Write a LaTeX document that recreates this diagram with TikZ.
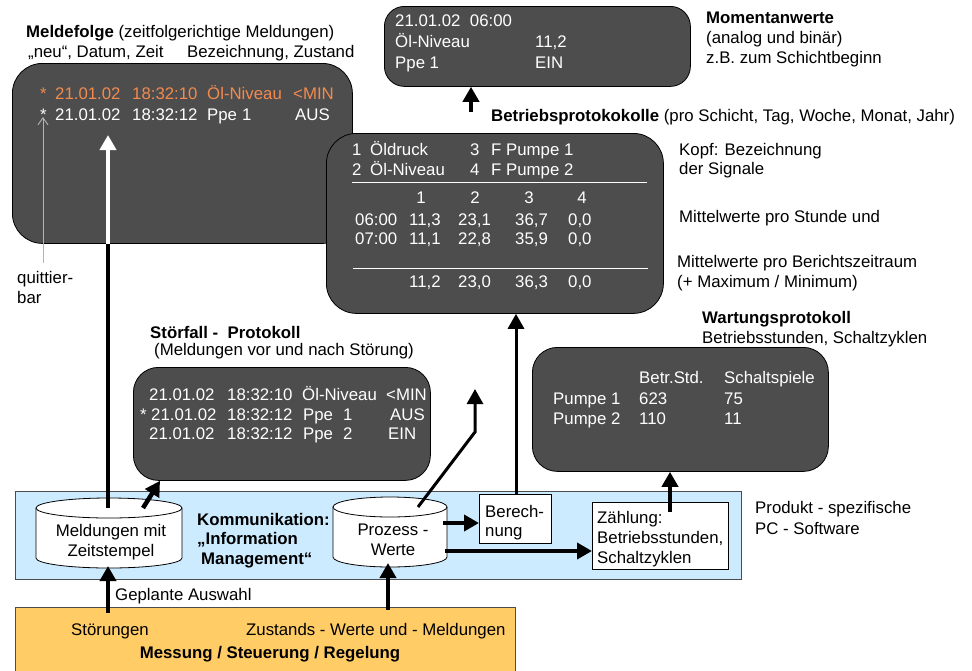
\documentclass[tikz,border=0pt]{standalone}
\usepackage{fontspec}
\setmainfont{Liberation Sans}
\usetikzlibrary{arrows.meta}
\definecolor{panel}{HTML}{4D4D4D}
\definecolor{alarm}{HTML}{F28A50}
\definecolor{lanblue}{HTML}{CCEBFF}
\definecolor{fieldorange}{HTML}{FFCC66}
\definecolor{ackline}{HTML}{B4B4B4}
\newcommand\txtsize{\fontsize{16.8pt}{20pt}\selectfont}

\begin{document}
\begin{tikzpicture}[x=1pt,y=-1pt,
  every node/.style={font=\txtsize, inner sep=0pt, anchor=base west},
  wtxt/.style={text=white},
  otxt/.style={text=alarm},
  screen/.style={draw=black, line width=0.8pt, fill=panel, anchor=north west},
  band/.style={draw=black!70, line width=0.8pt, anchor=north west},
  plainbox/.style={draw=black, line width=0.8pt, fill=white, anchor=north west},
  flow/.style={line width=4.5pt, -{Triangle[length=15pt,width=16pt]}},
  thinflow/.style={line width=3pt, -{Triangle[length=15pt,width=16pt]}},
  rule/.style={draw=white, line width=0.8pt},
  dbshape/.style={draw=black, line width=0.8pt, fill=white}
]
\useasboundingbox (0,0) rectangle (972,670);

% ---------- background bands ----------
\node[band, fill=lanblue, minimum width=726pt, minimum height=88pt] (lan) at (15,491) {};
\node[band, fill=fieldorange, minimum width=500pt, minimum height=72pt] (field) at (15,607) {};

% ---------- screens ----------
\node[screen, rounded corners=30pt, minimum width=340pt, minimum height=180pt] (meldefolge) at (12,63) {};
\node[screen, rounded corners=30pt, minimum width=337pt, minimum height=180pt] (betrieb) at (326,133) {};
\node[screen, rounded corners=20pt, minimum width=306pt, minimum height=80pt] (moment) at (384,6) {};
\node[screen, rounded corners=25pt, minimum width=297pt, minimum height=113pt] (stoer) at (133,367) {};
\node[screen, rounded corners=25pt, minimum width=296pt, minimum height=124pt] (wartung) at (532,347) {};

% ---------- databases (cylinders) ----------
\draw[dbshape] (36,508) -- (36,558) arc[start angle=180, end angle=360, x radius=73pt, y radius=10pt]
  -- (182,508) arc[start angle=0, end angle=180, x radius=73pt, y radius=10pt] -- cycle;
\draw[line width=0.8pt] (36,508) arc[start angle=180, end angle=360, x radius=73pt, y radius=10pt];
\draw[dbshape] (333,507) -- (333,557) arc[start angle=180, end angle=360, x radius=57pt, y radius=10pt]
  -- (447,507) arc[start angle=0, end angle=180, x radius=57pt, y radius=10pt] -- cycle;
\draw[line width=0.8pt] (333,507) arc[start angle=180, end angle=360, x radius=57pt, y radius=10pt];
\node[align=center, anchor=base] (melddb) at (111,556) {Meldungen mit\\Zeitstempel};
\node[align=center, anchor=base] (procdb) at (393,555) {Prozess -\\Werte};
\coordinate (melddb-top) at (108,508);
\coordinate (melddb-top2) at (143,508);
\coordinate (melddb-bot) at (108,566);
\coordinate (procdb-top) at (418,507);
\coordinate (procdb-bot) at (388,563);
\coordinate (procdb-r1) at (443,523);
\coordinate (procdb-r2) at (445,551);

% ---------- processing boxes ----------
\node[plainbox, minimum width=72pt, minimum height=49pt] (berech) at (479,494) {};
\node at (485,517) {Berech-};
\node at (485,536) {nung};
\node[plainbox, minimum width=136pt, minimum height=67pt] (zaehl) at (592,502) {};
\node at (597,523) {Zählung:};
\node at (597,543) {Betriebsstunden,};
\node at (597,563) {Schaltzyklen};

% ---------- Meldefolge ----------
\node at (26,37) {\textbf{Meldefolge} (zeitfolgerichtige Meldungen)};
\node at (28,57) {„neu“, Datum, Zeit};
\node at (187,57) {Bezeichnung, Zustand};
\node[otxt] at (40,99) {*};
\node[otxt] at (55,99) {21.01.02};
\node[otxt] at (132,99) {18:32:10};
\node[otxt] at (207,99) {Öl-Niveau};
\node[otxt] at (293,99) {<MIN};
\node[wtxt] at (40,120) {*};
\node[wtxt] at (55,120) {21.01.02};
\node[wtxt] at (132,120) {18:32:12};
\node[wtxt] at (207,120) {Ppe};
\node[wtxt] at (242,120) {1};
\node[wtxt] at (295,120) {AUS};
\coordinate (ack-foot) at (43,263);
\coordinate (ack-tip) at (43,117);
\draw[ackline, line width=0.9pt, -{Straight Barb[length=7pt,width=10pt]}] (ack-foot) -- (ack-tip);
\node (ack) at (17,283) {quittier-};
\node at (17,303) {bar};

% ---------- Betriebsprotokolle ----------
\node at (491,121) {\textbf{Betriebsprotokokolle} (pro Schicht, Tag, Woche, Monat, Jahr)};
\node[wtxt] at (352,155) {1};
\node[wtxt] at (370,155) {Öldruck};
\node[wtxt] at (352,175) {2};
\node[wtxt] at (370,175) {Öl-Niveau};
\node[wtxt] at (470,155) {3};
\node[wtxt] at (491,155) {F Pumpe 1};
\node[wtxt] at (470,175) {4};
\node[wtxt] at (491,175) {F Pumpe 2};
\draw[rule] (352,182) -- (647,182);
\node[wtxt, anchor=base] at (421,203) {1};
\node[wtxt, anchor=base] at (475,203) {2};
\node[wtxt, anchor=base] at (529,203) {3};
\node[wtxt, anchor=base] at (582,203) {4};
\node[wtxt] at (355,225) {06:00};
\node[wtxt] at (409,225) {11,3};
\node[wtxt] at (458,225) {23,1};
\node[wtxt] at (515,225) {36,7};
\node[wtxt] at (568,225) {0,0};
\node[wtxt] at (355,244) {07:00};
\node[wtxt] at (409,244) {11,1};
\node[wtxt] at (458,244) {22,8};
\node[wtxt] at (515,244) {35,9};
\node[wtxt] at (568,244) {0,0};
\draw[rule] (353,268) -- (648,268);
\node[wtxt] at (409,287) {11,2};
\node[wtxt] at (458,287) {23,0};
\node[wtxt] at (515,287) {36,3};
\node[wtxt] at (568,287) {0,0};
\node at (679,155) {Kopf: Bezeichnung};
\node at (679,174) {der Signale};
\node at (679,222) {Mittelwerte pro Stunde und};
\node at (677,267) {Mittelwerte pro Berichtszeitraum};
\node at (677,287) {(+ Maximum / Minimum)};

% ---------- Momentanwerte ----------
\node[wtxt] at (395,26) {21.01.02\ \ 06:00};
\node[wtxt] at (395,47) {Öl-Niveau};
\node[wtxt] at (535,47) {11,2};
\node[wtxt] at (395,68) {Ppe 1};
\node[wtxt] at (535,68) {EIN};
\node at (706,23) {\textbf{Momentanwerte}};
\node at (706,43) {(analog und binär)};
\node at (706,63) {z.B. zum Schichtbeginn};

% ---------- Störfall-Protokoll ----------
\node at (150,338) {\textbf{Störfall -\ \ Protokoll}};
\node at (154,355) {(Meldungen vor und nach Störung)};
\node[wtxt] at (149,400) {21.01.02};
\node[wtxt] at (227,400) {18:32:10};
\node[wtxt] at (302,400) {Öl-Niveau};
\node[wtxt] at (386,400) {<MIN};
\node[wtxt] at (140,420) {*};
\node[wtxt] at (151,420) {21.01.02};
\node[wtxt] at (227,420) {18:32:12};
\node[wtxt] at (303,420) {Ppe};
\node[wtxt] at (343,420) {1};
\node[wtxt] at (390,420) {AUS};
\node[wtxt] at (149,439) {21.01.02};
\node[wtxt] at (227,439) {18:32:12};
\node[wtxt] at (303,439) {Ppe};
\node[wtxt] at (343,439) {2};
\node[wtxt] at (388,439) {EIN};

% ---------- Wartungsprotokoll ----------
\node at (702,323) {\textbf{Wartungsprotokoll}};
\node at (702,343) {Betriebsstunden, Schaltzyklen};
\node[wtxt] at (639,383) {Betr.Std.};
\node[wtxt] at (724,383) {Schaltspiele};
\node[wtxt] at (553,404) {Pumpe 1};
\node[wtxt] at (639,404) {623};
\node[wtxt] at (724,404) {75};
\node[wtxt] at (553,424) {Pumpe 2};
\node[wtxt] at (639,424) {110};
\node[wtxt] at (724,424) {11};

% ---------- communication layer labels ----------
\node at (197,525) {\textbf{Kommunikation:}};
\node at (197,544) {\textbf{„Information}};
\node at (201,564) {\textbf{Management“}};
\node at (755,513) {Produkt - spezifische};
\node at (755,534) {PC - Software};

% ---------- field level ----------
\node at (115,600) {Geplante Auswahl};
\node[anchor=base] at (110,635) {Störungen};
\node at (246,635) {Zustands - Werte und - Meldungen};
\node[anchor=base] at (270,658) {\textbf{Messung / Steuerung / Regelung}};
\coordinate (field-stoer) at (108,613);
\coordinate (field-zust) at (388,610);

% ---------- connectors ----------
\draw[flow] (field-stoer) -- (melddb-bot);
\draw[flow] (field-zust) -- (procdb-bot);
\draw[line width=4.5pt, white, -{Triangle[length=15pt,width=16pt]}] (meldefolge.south -| melddb-top) -- (108,135);
\draw[line width=4.5pt] (melddb-top) -- (meldefolge.south -| melddb-top);
\draw[flow] (melddb-top2) -- (stoer.south west -| 160,0);
\draw[thinflow] (procdb-top) -- (475,432) -- (475,389);
\draw[flow] (procdb-r1) -- (berech.west |- procdb-r1);
\draw[flow] (procdb-r2) -- (zaehl.west |- procdb-r2);
\draw[thinflow] (berech.north -| 516,0) -- (betrieb.south -| 516,0);
\draw[flow] (670,512) -- (wartung.south -| 670,0);
\coordinate (moment-src) at (471,112);
\draw[flow] (moment-src) -- (moment.south -| moment-src);
\end{tikzpicture}
\end{document}
